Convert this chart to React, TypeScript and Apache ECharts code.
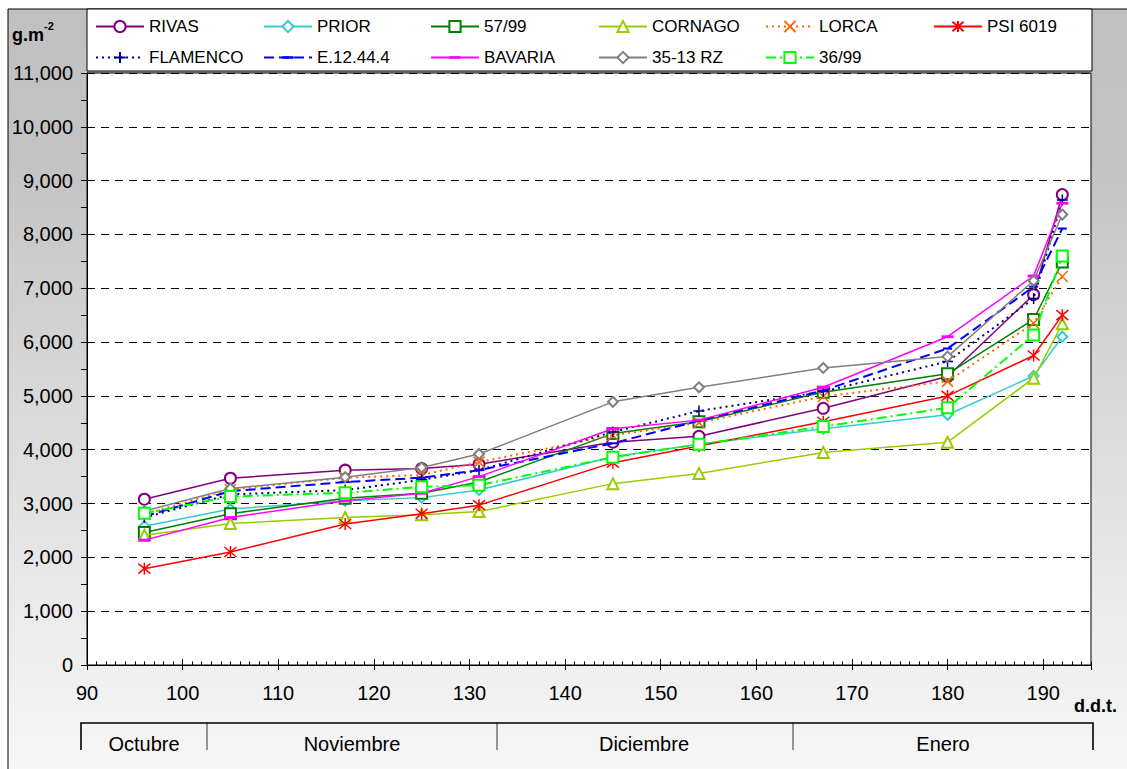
import React, { useEffect, useRef } from "react";
import * as echarts from "echarts";

const days = [96, 105, 117, 125, 131, 145, 154, 167, 180, 189, 192];

const rivas = [3080, 3470, 3620, 3650, 3730, 4140, 4250, 4770, 5360, 6880, 8740];
const prior = [2580, 2900, 3050, 3110, 3250, 3870, 4100, 4390, 4650, 5370, 6100];
const v5799 = [2460, 2810, 3100, 3190, 3400, 4300, 4520, 5070, 5410, 6420, 7490];
const cornago = [2410, 2630, 2740, 2790, 2850, 3370, 3560, 3950, 4140, 5330, 6340];
const lorca = [2800, 3260, 3480, 3530, 3770, 4270, 4500, 4990, 5270, 6350, 7220];
const psi6019 = [1790, 2100, 2620, 2810, 2970, 3760, 4070, 4520, 5000, 5750, 6500];
const flamenco = [2740, 3170, 3250, 3440, 3620, 4330, 4720, 5080, 5640, 6810, 8640];
const e124 = [2760, 3230, 3400, 3480, 3620, 4120, 4540, 5100, 5880, 7030, 8110];
const bavaria = [2320, 2740, 3050, 3190, 3500, 4390, 4550, 5160, 6100, 7230, 8580];
const rz3513 = [2860, 3280, 3490, 3670, 3920, 4890, 5160, 5520, 5730, 7140, 8370];
const v3699 = [2820, 3130, 3200, 3310, 3340, 3860, 4100, 4430, 4780, 6130, 7600];

const seriesNames = ["RIVAS", "PRIOR", "57/99", "CORNAGO", "LORCA", "PSI 6019", "FLAMENCO", "E.12.44.4", "BAVARIA", "35-13 RZ", "36/99"];
const seriesValues = [rivas, prior, v5799, cornago, lorca, psi6019, flamenco, e124, bavaria, rz3513, v3699];

const months = ["Octubre", "Noviembre", "Diciembre", "Enero"];
const yTicks = [0, 1000, 2000, 3000, 4000, 5000, 6000, 7000, 8000, 9000, 10000, 11000];

const FONT = '"Liberation Sans", Arial, sans-serif';

const CROSS = "path://M0,0L10,10M10,0L0,10";
const STAR = "path://M0,0L10,10M10,0L0,10M5,-1L5,11";
const PLUS = "path://M5,0L5,10M0,5L10,5";
const DASH = "path://M0,0M12,12M0,4.6h12v2.8h-12z";

type Style = { color: string; type: any; width: number; symbol: string; size: number; stroke?: boolean; fill?: boolean };
const styles: Style[] = [
  { color: "#800080", type: "solid", width: 1.5, symbol: "emptyCircle", size: 11 },
  { color: "#33CCCC", type: "solid", width: 1.5, symbol: "emptyDiamond", size: 10 },
  { color: "#008000", type: "solid", width: 1.5, symbol: "emptyRect", size: 11 },
  { color: "#99CC00", type: "solid", width: 1.5, symbol: "emptyTriangle", size: 11 },
  { color: "#FF6600", type: [2, 4], width: 2, symbol: CROSS, size: 11, stroke: true },
  { color: "#FF0000", type: "solid", width: 1.5, symbol: STAR, size: 12, stroke: true },
  { color: "#000080", type: [2, 4], width: 2, symbol: PLUS, size: 11, stroke: true },
  { color: "#0000FF", type: [10, 5], width: 2, symbol: DASH, size: 9, fill: true },
  { color: "#FF00FF", type: "solid", width: 1.5, symbol: DASH, size: 12, fill: true },
  { color: "#808080", type: "solid", width: 1.5, symbol: "emptyDiamond", size: 10 },
  { color: "#00FF00", type: [10, 4, 2, 4], width: 2, symbol: "emptyRect", size: 11 },
];

const legendCols = [95, 263, 430, 598, 765, 933];
const legendRows = [18, 49];

export default function App() {
  const ref = useRef<HTMLDivElement>(null);
  useEffect(() => {
    if (!ref.current) return;
    const chart = echarts.init(ref.current, undefined, { renderer: "svg" });

    const series = seriesNames.map((name, i) => {
      const s = styles[i];
      const itemStyle: any = { color: s.color, borderColor: s.color, borderWidth: s.fill ? 0 : 1.5 };
      return {
        name,
        type: "line",
        xAxisIndex: 0,
        yAxisIndex: 0,
        data: days.map((d, k) => [d, seriesValues[i][k]]),
        symbol: s.symbol,
        symbolSize: s.size,
        showAllSymbol: true,
        lineStyle: { color: s.color, width: s.width, type: s.type },
        itemStyle,
        emphasis: { disabled: true },
        z: 3 + i,
      };
    });

    const legends = seriesNames.map((name, i) => ({
      data: [name],
      left: legendCols[i < 6 ? i : i - 6],
      top: legendRows[i < 6 ? 0 : 1],
      padding: 0,
      itemWidth: 48,
      itemHeight: 14,
      selectedMode: false,
      textStyle: { fontFamily: FONT, fontSize: 17, color: "#000" },
    }));

    const monthX = [144, 352, 644, 943];

    const option: any = {
      animation: false,
      textStyle: { fontFamily: FONT },
      legend: legends,
      grid: {
        left: 87,
        right: 36,
        top: 73,
        bottom: 104,
        show: true,
        backgroundColor: "#ffffff",
        borderColor: "#000",
        borderWidth: 1,
      },
      xAxis: [
        {
          type: "value",
          position: "bottom",
          min: 90,
          max: 195,
          interval: 10,
          axisLine: { show: true, onZero: false, lineStyle: { color: "#000", width: 1 } },
          axisTick: { show: true, inside: true, length: 6, lineStyle: { color: "#000" } },
          axisLabel: { show: true, margin: 18, fontSize: 20, color: "#000", fontFamily: FONT, showMaxLabel: false },
          splitLine: { show: false },
        },
        {
          type: "value",
          position: "bottom",
          min: 90,
          max: 195,
          interval: 1,
          axisLine: { show: false, onZero: false },
          axisTick: { show: true, inside: true, length: 3.5, lineStyle: { color: "#000" } },
          axisLabel: { show: false },
          splitLine: { show: false },
        },
        {
          type: "value",
          position: "bottom",
          min: 90,
          max: 195,
          interval: 10,
          axisLine: { show: false, onZero: false },
          axisTick: { show: true, inside: false, length: 5, lineStyle: { color: "#000" } },
          axisLabel: { show: false },
          splitLine: { show: false },
        },
      ],
      yAxis: {
        type: "value",
        min: yTicks[0],
        max: yTicks[yTicks.length - 1],
        interval: 1000,
        axisLine: { show: true, lineStyle: { color: "#000", width: 1 } },
        axisTick: { show: true, inside: false, length: 6, lineStyle: { color: "#000" } },
        minorTick: { show: true, splitNumber: 2, length: 6, lineStyle: { color: "#000" } },
        axisLabel: {
          margin: 14,
          fontSize: 20,
          color: "#000",
          fontFamily: FONT,
          formatter: (v: number) => v.toLocaleString("en-US"),
        },
        splitLine: { show: true, lineStyle: { color: "#000", width: 1, type: [8, 6] } },
      },
      graphic: [
        {
          type: "rect",
          z: -20,
          silent: true,
          shape: { x: 8, y: 9, width: 1130, height: 770 },
          style: {
            fill: new echarts.graphic.LinearGradient(0, 0, 0, 1, [
              { offset: 0, color: "#c0c0c0" },
              { offset: 0.2, color: "#c3c3c3" },
              { offset: 0.5, color: "#d8d8d8" },
              { offset: 0.8, color: "#ececec" },
              { offset: 1, color: "#f7f7f7" },
            ]),
            stroke: "#000",
            lineWidth: 1,
          },
        },
        {
          type: "rect",
          z: -10,
          silent: true,
          shape: { x: 87, y: 9, width: 1005, height: 62 },
          style: { fill: "#fff", stroke: "#000", lineWidth: 1 },
        },
        {
          type: "text",
          z: 10,
          left: 12,
          top: 20,
          style: {
            text: "{b|g.m}{s|-2}",
            rich: {
              b: { fontFamily: FONT, fontSize: 18, fontWeight: "bold", fill: "#000", verticalAlign: "bottom", lineHeight: 24 },
              s: { fontFamily: FONT, fontSize: 11, fontWeight: "bold", fill: "#000", verticalAlign: "top", lineHeight: 24 },
            },
          },
        },
        {
          type: "text",
          z: 10,
          left: 1074,
          top: 697,
          style: { text: "d.d.t.", fontFamily: FONT, fontSize: 18, fontWeight: "bold", fill: "#000" },
        },
        {
          type: "polyline",
          z: 10,
          silent: true,
          shape: { points: [[81, 750], [81, 723], [1093, 723], [1093, 750]] },
          style: { stroke: "#000", lineWidth: 1.6, fill: null },
        },
        ...[207, 497, 793].map((x) => ({
          type: "line",
          z: 10,
          silent: true,
          shape: { x1: x, y1: 723, x2: x, y2: 750 },
          style: { stroke: "#000", lineWidth: 0.8 },
        })),
        ...months.map((m, i) => ({
          type: "text",
          z: 10,
          x: monthX[i],
          y: 744,
          style: { text: m, fontFamily: FONT, fontSize: 20, fill: "#000", align: "center", verticalAlign: "middle" },
        })),
      ],
      series,
    };

    chart.setOption(option);
    return () => chart.dispose();
  }, []);

  return <div ref={ref} style={{ position: "absolute", left: 0, top: 0, width: 1127, height: 769 }} />;
}
